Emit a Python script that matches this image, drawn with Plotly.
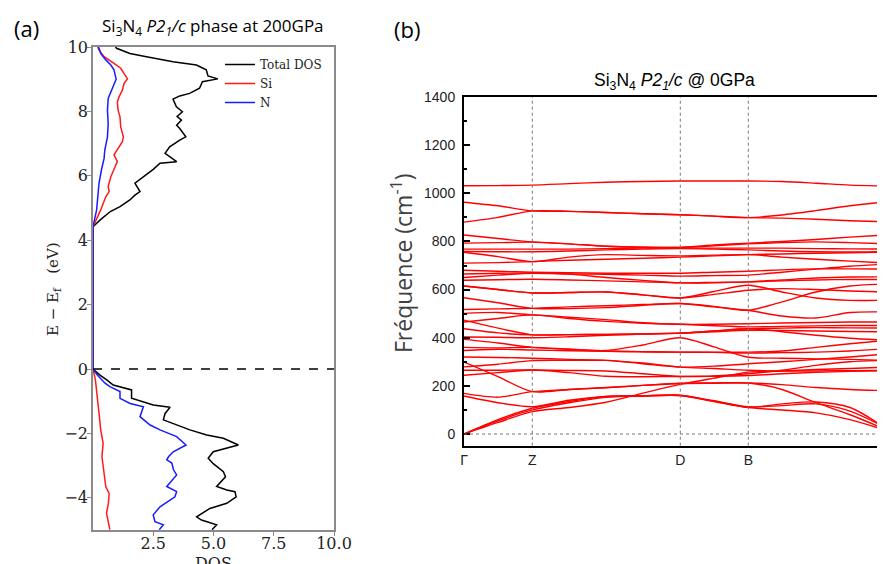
import plotly.graph_objects as go

# ---------------- Panel (a): DOS data ----------------
tot_E = [-4.99, -4.84, -4.69, -4.59, -4.33, -4.17, -3.97, -3.81, -3.76, -3.65, -3.35, -3.19, -2.94, -2.77,
         -2.57, -2.46, -2.36, -2.15, -2.05, -1.89, -1.74, -1.58, -1.38, -1.19, -1.12, -1.02, -0.91, -0.65,
         -0.57, -0.50, -0.34, -0.19, 0.0, 4.42, 4.63, 4.89, 5.04, 5.25, 5.40, 5.51, 5.77, 5.97, 6.20, 6.39,
         6.44, 6.70, 6.90, 7.11, 7.21, 7.47, 7.57, 7.73, 7.84, 7.99, 8.14, 8.38, 8.48, 8.56, 8.72, 8.92,
         9.01, 9.10, 9.29, 9.44, 9.54, 9.70, 9.80, 9.96, 10.0]
tot_dos = [4.94, 5.13, 4.50, 4.30, 4.85, 5.55, 5.94, 5.89, 5.55, 5.13, 5.50, 5.41, 4.99, 4.78,
           4.99, 5.55, 6.03, 5.41, 4.72, 4.02, 3.47, 2.92, 2.99, 3.20, 2.50, 2.02, 1.60, 1.60,
           1.19, 0.84, 0.57, 0.29, 0.0, 0.0, 0.30, 0.72, 1.12, 1.53, 1.74, 1.95, 1.74, 2.09, 2.50, 2.78,
           3.47, 2.99, 3.18, 3.60, 3.85, 3.60, 3.47, 3.67, 3.49, 3.71, 3.46, 3.32, 3.60, 4.01, 4.42, 4.54,
           5.18, 4.77, 4.70, 4.29, 3.32, 2.22, 1.53, 0.98, 0.93]

si_E = [-4.99, -4.69, -4.48, -4.17, -3.86, -3.65, -3.24, -2.72, -2.31, -1.89, -1.37, -0.85, -0.34, 0.0,
        4.42, 4.94, 5.35, 5.51, 5.67, 5.97, 6.28, 6.44, 6.65, 6.85, 7.06, 7.21, 7.52, 7.83, 8.04, 8.29,
        8.45, 8.66, 8.87, 9.01, 9.18, 9.34, 9.49, 9.70, 9.90, 10.0]
si_dos = [0.70, 0.60, 0.56, 0.64, 0.67, 0.53, 0.46, 0.37, 0.42, 0.32, 0.25, 0.18, 0.10, 0.0,
          0.0, 0.32, 0.53, 0.67, 0.63, 0.74, 0.94, 1.01, 0.87, 1.04, 1.22, 1.26, 1.15, 1.12, 1.04, 1.01,
          1.08, 1.22, 1.29, 1.43, 1.29, 1.15, 0.87, 0.46, 0.25, 0.20]

n_E = [-4.99, -4.84, -4.74, -4.53, -4.28, -3.97, -3.81, -3.65, -3.29, -3.13, -2.92, -2.82, -2.72, -2.57,
       -2.36, -2.10, -1.89, -1.74, -1.48, -1.17, -1.07, -0.91, -0.70, -0.55, -0.44, -0.19, 0.0,
       4.42, 4.94, 5.35, 5.77, 6.18, 6.54, 6.80, 7.21, 7.62, 8.04, 8.40, 8.61, 8.87, 9.00, 9.29, 9.44,
       9.60, 9.80, 9.96, 10.0]
n_dos = [2.75, 2.92, 2.57, 2.50, 2.78, 3.40, 3.47, 3.06, 3.47, 3.34, 3.27, 3.06, 3.14, 3.33,
         3.86, 3.47, 2.78, 2.37, 1.95, 2.09, 1.54, 1.12, 1.12, 0.70, 0.50, 0.18, 0.0,
         0.0, 0.15, 0.20, 0.25, 0.35, 0.46, 0.49, 0.60, 0.63, 0.60, 0.63, 0.74, 0.87, 0.96, 0.87, 0.74,
         0.53, 0.32, 0.25, 0.22]

dos_ticks = [2.5, 5.0, 7.5, 10.0]
dos_ticktext = ["2.5", "5.0", "7.5", "10.0"]

# ---------------- Panel (b): phonon bands ----------------
hsp_labels = ["Γ", "Z", "D", "B"]
hsp_pos = [0.0, 0.683, 2.163, 2.843]
k_nodes = [0, 0.34, 0.683, 1.05, 1.42, 1.79, 2.163, 2.5, 2.843, 3.18, 3.52, 3.86, 4.23]

band_h1 = [1031, 1032, 1034, 1040, 1046, 1049, 1051, 1051, 1051, 1049, 1042, 1034, 1030]
band_h2 = [963, 948, 927, 925, 920, 915, 911, 905, 899, 910, 928, 948, 965]
band_h3 = [880, 900, 927, 925, 920, 915, 911, 905, 899, 897, 892, 886, 882]
band_h4 = [827, 812, 798, 790, 780, 776, 775, 785, 793, 800, 808, 818, 827]
band_h5 = [793, 795, 797, 790, 780, 776, 775, 782, 790, 795, 798, 795, 790]
band_h6 = [768, 768, 768, 768, 770, 772, 772, 772, 772, 772, 770, 769, 768]
band_h7 = [758, 757, 757, 760, 765, 768, 770, 768, 765, 760, 757, 756, 758]
band_h8 = [755, 737, 716, 735, 745, 742, 740, 743, 745, 735, 726, 718, 710]
band_h9 = [710, 712, 716, 722, 726, 730, 735, 740, 745, 748, 751, 753, 755]
band_m1 = [665, 668, 668, 665, 663, 660, 656, 658, 660, 672, 685, 697, 706]
band_m2 = [650, 660, 668, 664, 650, 638, 628, 630, 632, 640, 648, 652, 653]
band_m3 = [639, 641, 643, 640, 636, 632, 628, 628, 632, 636, 640, 642, 642]
band_m4 = [680, 676, 672, 670, 668, 668, 668, 672, 676, 682, 686, 686, 685]
band_m5 = [615, 600, 586, 588, 590, 578, 565, 580, 597, 604, 600, 594, 590]
band_m6 = [615, 600, 586, 588, 590, 578, 565, 592, 618, 590, 565, 555, 556]
band_m7 = [566, 545, 522, 521, 525, 535, 542, 530, 514, 549, 590, 615, 623]
band_m8 = [517, 520, 522, 528, 533, 538, 542, 528, 514, 490, 482, 505, 507]
band_m9 = [501, 505, 495, 485, 475, 462, 456, 456, 458, 461, 463, 465, 465]
band_m10 = [465, 480, 495, 480, 468, 460, 456, 450, 445, 447, 449, 451, 451]
band_m11 = [473, 440, 412, 413, 414, 416, 419, 428, 437, 425, 410, 398, 389]
band_m12 = [437, 420, 412, 413, 414, 416, 419, 425, 431, 430, 428, 426, 424]
band_m13 = [403, 402, 400, 404, 410, 415, 419, 428, 437, 440, 442, 441, 440]
band_m14 = [393, 378, 360, 352, 347, 370, 400, 362, 319, 315, 312, 310, 306]
band_m15 = [360, 358, 360, 352, 345, 342, 340, 340, 340, 345, 360, 375, 389]
band_m16 = [347, 352, 349, 346, 344, 342, 340, 339, 336, 338, 340, 345, 354]
band_m17 = [320, 318, 315, 310, 306, 292, 278, 282, 292, 300, 310, 320, 333]
band_m18 = [279, 290, 305, 306, 306, 295, 278, 272, 265, 262, 262, 263, 264]
band_m19 = [265, 265, 266, 264, 262, 250, 239, 240, 243, 250, 256, 260, 264]
band_m20 = [244, 255, 266, 255, 240, 238, 239, 241, 250, 265, 285, 300, 306]
band_m21 = [299, 238, 176, 185, 193, 202, 210, 211, 212, 205, 193, 185, 180]
band_l1 = [0, 48, 93, 110, 132, 170, 206, 232, 257, 262, 268, 272, 278]
band_l2 = [0, 55, 100, 130, 152, 158, 160, 135, 111, 125, 133, 110, 21]
band_l3 = [0, 60, 107, 135, 156, 158, 161, 136, 110, 100, 88, 60, 14]
band_l4 = [169, 153, 176, 185, 192, 202, 211, 212, 212, 185, 130, 80, 17]
band_l5 = [158, 130, 113, 140, 156, 159, 160, 138, 113, 118, 125, 95, 24]

bands = [band_h1, band_h2, band_h3, band_h4, band_h5, band_h6, band_h7, band_h8, band_h9,
         band_m1, band_m2, band_m3, band_m4, band_m5, band_m6, band_m7, band_m8, band_m9, band_m10,
         band_m11, band_m12, band_m13, band_m14, band_m15, band_m16, band_m17, band_m18, band_m19,
         band_m20, band_m21, band_l1, band_l2, band_l3, band_l4, band_l5]

W, H = 885, 564
OFF = 8  # page body margin offset


def px(x):
    return (x - OFF) / W


def py(y):
    return (H - (y - OFF)) / H


fig = go.Figure()

serif = "DejaVu Serif"
fig.add_trace(go.Scatter(x=tot_dos, y=tot_E, mode="lines", name="Total DOS",
                         line=dict(color="black", width=1.5), xaxis="x", yaxis="y"))
fig.add_trace(go.Scatter(x=si_dos, y=si_E, mode="lines", name="Si",
                         line=dict(color="#ff1a1a", width=1.5), xaxis="x", yaxis="y"))
fig.add_trace(go.Scatter(x=n_dos, y=n_E, mode="lines", name="N",
                         line=dict(color="#1a1aff", width=1.5), xaxis="x", yaxis="y"))

for b in bands:
    fig.add_trace(go.Scatter(x=k_nodes, y=b, mode="lines", showlegend=False,
                             line=dict(color="#ff0000", width=1.4, shape="spline", smoothing=0.8),
                             xaxis="x2", yaxis="y2", hoverinfo="skip"))

x2_max = (W + OFF - 464) / 100.0

shapes = [
    dict(type="line", xref="x", yref="y", x0=0, x1=10, y0=0, y1=0,
         line=dict(color="black", width=1.5, dash="dash")),
    dict(type="line", xref="x2", yref="y2", x0=0, x1=x2_max, y0=0, y1=0,
         line=dict(color="#777777", width=1, dash="dot")),
]
for xv in hsp_pos[1:]:
    shapes.append(dict(type="line", xref="x2", yref="y2 domain", x0=xv, x1=xv, y0=0, y1=1,
                       line=dict(color="#777777", width=1, dash="dot")))


def ann(text, x, y, font, angle=0):
    return dict(text=text, x=px(x), y=py(y), xref="paper", yref="paper", showarrow=False,
                xanchor="center", yanchor="middle", textangle=angle, font=font)


annotations = [
    ann("(a)", 26, 28, dict(family="Open Sans", size=22, color="black")),
    ann("Si<sub>3</sub>N<sub>4</sub> <i>P2<sub>1</sub>/c</i> phase at 200GPa", 213, 27,
        dict(family="Open Sans", size=17, color="black")),
    ann("(b)", 407, 29, dict(family="Open Sans", size=22, color="black")),
    ann("Si<sub>3</sub>N<sub>4</sub> <i>P2<sub>1</sub>/c</i> @ 0GPa", 674, 81,
        dict(family="Liberation Sans, Arial", size=17.5, color="black")),
    ann("Fréquence (cm<sup>-1</sup>)", 402, 263, dict(family="Open Sans", size=23, color="#404040"), -90),
    ann("E − E<sub>f</sub>   (eV)", 53, 289, dict(family=serif, size=15, color="#222222"), -90),
    ann("DOS", 213, 563, dict(family=serif, size=16, color="#222222")),
]

fig.update_layout(
    template="none",
    width=W, height=H, autosize=False,
    margin=dict(l=0, r=0, t=0, b=0, pad=0, autoexpand=False),
    paper_bgcolor="white", plot_bgcolor="white",
    showlegend=True,
    legend=dict(x=px(220), y=py(50), xanchor="left", yanchor="top",
                font=dict(family=serif, size=12, color="#222222"),
                bgcolor="rgba(0,0,0,0)", borderwidth=0, tracegroupgap=0),
    xaxis=dict(domain=[px(93), px(334)], range=[0, 10], tickvals=dos_ticks, ticktext=dos_ticktext,
               showline=True, mirror=True, linecolor="#8a8a8a", linewidth=1.5,
               ticks="outside", ticklen=4, tickcolor="#8a8a8a", automargin=False,
               ticklabelstandoff=-6,
               tickfont=dict(family=serif, size=16, color="#222222"),
               showgrid=False, zeroline=False, anchor="y"),
    yaxis=dict(domain=[py(530), py(47)], range=[-5, 10], dtick=2, tick0=0,
               showline=True, mirror=True, linecolor="#8a8a8a", linewidth=1.5,
               ticks="outside", ticklen=4, tickcolor="#8a8a8a", automargin=False,
               ticklabelstandoff=-4,
               tickfont=dict(family=serif, size=16, color="#222222"),
               showgrid=False, zeroline=False, anchor="x"),
    xaxis2=dict(domain=[px(464), 1.0], range=[0, x2_max], tickvals=hsp_pos, ticktext=hsp_labels,
                showline=True, mirror=True, linecolor="black", linewidth=2, ticks="",
                automargin=False,
                tickfont=dict(family="Liberation Sans, Arial", size=14, color="#222222"),
                showgrid=False, zeroline=False, anchor="y2"),
    yaxis2=dict(domain=[py(445.7), py(97)], range=[-48.6, 1400], dtick=200, tick0=0,
                showline=True, linecolor="black", linewidth=2, automargin=False,
                ticks="inside", ticklen=6, tickwidth=1.5, tickcolor="black",
                minor=dict(ticks="inside", ticklen=3, dtick=100, tick0=0, tickcolor="black"),
                tickfont=dict(family="Liberation Sans, Arial", size=14, color="#222222"),
                ticklabelstandoff=4,
                showgrid=False, zeroline=False, anchor="x2"),
    shapes=shapes,
    annotations=annotations,
)

fig.write_html("out.html")
